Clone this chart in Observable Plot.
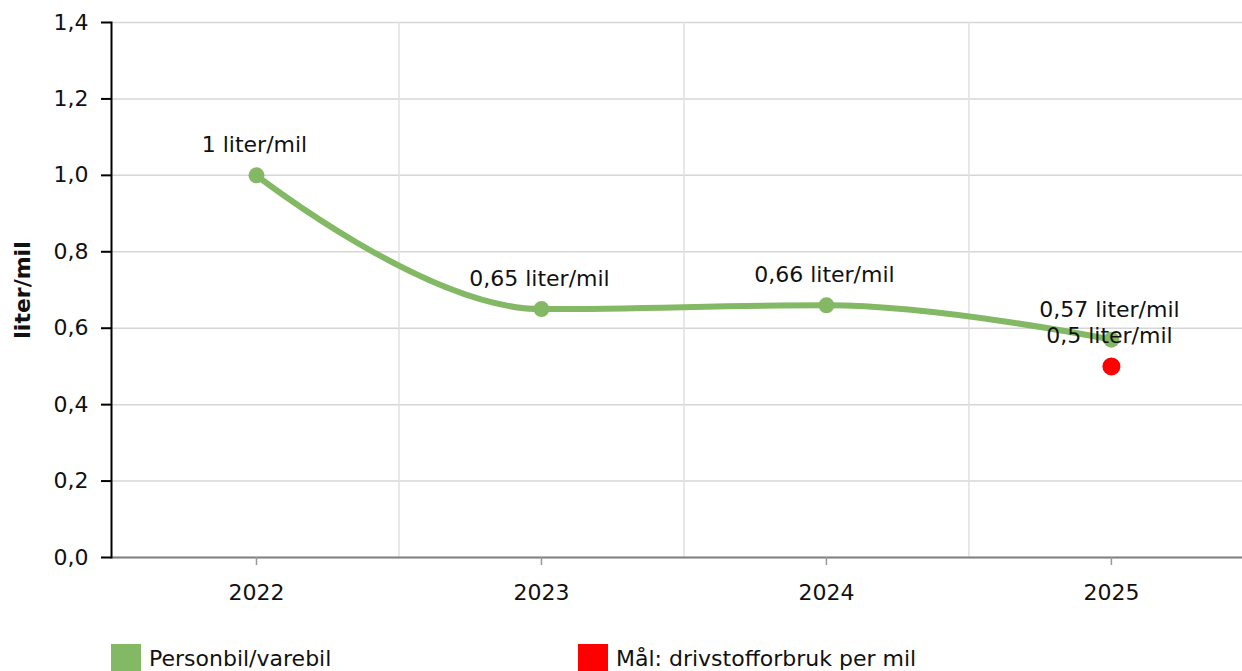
<!DOCTYPE html>
<html>
<head>
<meta charset="utf-8">
<script src="https://cdn.jsdelivr.net/npm/d3@7"></script>
<script src="https://cdn.jsdelivr.net/npm/@observablehq/plot@0.6"></script>
<style>
  html, body { margin: 0; padding: 0; background: #fff; }
  body { width: 1242px; height: 671px; overflow: hidden; font-family: "DejaVu Sans", Verdana, sans-serif; }
  #legend { position: relative; height: 40px; margin-top: 24px; font-size: 22px; color: #111; }
  .item { position: absolute; top: 0; display: flex; align-items: center; }
  .sw { width: 30px; height: 28px; margin-right: 8px; }
</style>
</head>
<body>
<div id="chart"></div>
<div id="legend"></div>
<script>
const years = [2022, 2023, 2024, 2025];
const forbruk = [1.0, 0.65, 0.66, 0.57];
const maalYear = [2025];
const maalValue = [0.5];
const yTicks = [0, 0.2, 0.4, 0.6, 0.8, 1.0, 1.2, 1.4];
const seriesNames = ["Personbil/varebil", "Mål: drivstofforbruk per mil"];
const seriesColors = ["#83b964", "#ff0000"];
const yLabel = "liter/mil";

const fmt = v => String(v).replace(".", ",");
const line = years.map((y, i) => ({year: y, value: forbruk[i]}));
const goal = maalYear.map((y, i) => ({year: y, value: maalValue[i]}));
const bounds = years.slice(1).map(y => y - 0.5);

// Spline curve in the style of the source chart (smoothing 1.5, no false extremes)
function SplineCurve(context) { this._context = context; }
SplineCurve.prototype = {
  areaStart() {}, areaEnd() {},
  lineStart() { this._pts = []; },
  point(x, y) { this._pts.push([+x, +y]); },
  lineEnd() {
    const p = this._pts, c = this._context, n = p.length;
    if (!n) return;
    const s = 1.5, den = 2.5;
    const ctrl = p.map((pt, i) => {
      if (i === 0 || i === n - 1) return null;
      const [lastX, lastY] = p[i - 1], [x, y] = pt, [nextX, nextY] = p[i + 1];
      let lx = (s * x + lastX) / den, ly = (s * y + lastY) / den;
      let rx = (s * x + nextX) / den, ry = (s * y + nextY) / den;
      let corr = 0;
      if (rx !== lx) corr = ((ry - ly) * (rx - x)) / (rx - lx) + y - ry;
      ly += corr; ry += corr;
      if (ly > lastY && ly > y) { ly = Math.max(lastY, y); ry = 2 * y - ly; }
      else if (ly < lastY && ly < y) { ly = Math.min(lastY, y); ry = 2 * y - ly; }
      if (ry > nextY && ry > y) { ry = Math.max(nextY, y); ly = 2 * y - ry; }
      else if (ry < nextY && ry < y) { ry = Math.min(nextY, y); ly = 2 * y - ry; }
      return {lx, ly, rx, ry};
    });
    c.moveTo(p[0][0], p[0][1]);
    for (let i = 1; i < n; i++) {
      const a = ctrl[i - 1], b = ctrl[i];
      c.bezierCurveTo(
        a ? a.rx : p[i - 1][0], a ? a.ry : p[i - 1][1],
        b ? b.lx : p[i][0], b ? b.ly : p[i][1],
        p[i][0], p[i][1]
      );
    }
  }
};
const spline = ctx => new SplineCurve(ctx);

const chart = Plot.plot({
  width: 1242,
  height: 620,
  marginLeft: 111,
  marginRight: 0,
  marginTop: 22,
  marginBottom: 63,
  style: {fontFamily: "DejaVu Sans, Verdana, sans-serif", fontSize: "22px", color: "#111", background: "#fff"},
  x: {type: "linear", domain: [2021.5, 2025.46], range: [113.5, 1242]},
  y: {domain: [0, 1.4]},
  marks: [
    Plot.ruleY(yTicks, {stroke: "#d6d6d6", strokeWidth: 1.5}),
    Plot.ruleX(bounds, {stroke: "#e0e0e0", strokeWidth: 1.5}),
    Plot.ruleY([0], {stroke: "#808080", strokeWidth: 2}),
    Plot.frame({anchor: "left", stroke: "#000", strokeWidth: 2}),
    Plot.axisY({ticks: yTicks, tickFormat: v => d3.format(".1f")(v).replace(".", ","), tickSize: 10, tickPadding: 13, stroke: "#000", strokeWidth: 2, strokeOpacity: 1, fontSize: 22, label: null}),
    Plot.axisX({ticks: years, tickFormat: d => String(d), tickSize: 8, tickPadding: 19, stroke: "#999", strokeWidth: 1.5, strokeOpacity: 1, fontSize: 22, label: null}),
    Plot.text([yLabel], {frameAnchor: "left", dx: -89, rotate: -90, textAnchor: "middle", text: d => d, fontWeight: "bold", fontSize: 22}),
    Plot.line(line, {x: "year", y: "value", stroke: seriesColors[0], strokeWidth: 6, curve: spline}),
    Plot.dot(line, {x: "year", y: "value", r: 8, fill: seriesColors[0]}),
    Plot.dot(goal, {x: "year", y: "value", r: 9, fill: seriesColors[1]}),
    Plot.text(line, {x: "year", y: "value", text: d => fmt(d.value) + " liter/mil", dy: -30, dx: -2, fontSize: 22, fill: "#111"}),
    Plot.text(goal, {x: "year", y: "value", text: d => fmt(d.value) + " liter/mil", dy: -30, dx: -2, fontSize: 22, fill: "#111"})
  ]
});
document.getElementById("chart").appendChild(chart);

const legend = document.getElementById("legend");
const lefts = [111, 578];
seriesNames.forEach((n, i) => {
  const it = document.createElement("div");
  it.className = "item";
  it.style.left = lefts[i] + "px";
  it.innerHTML = `<span class="sw" style="background:${seriesColors[i]}"></span><span>${n}</span>`;
  legend.appendChild(it);
});
</script>
</body>
</html>
